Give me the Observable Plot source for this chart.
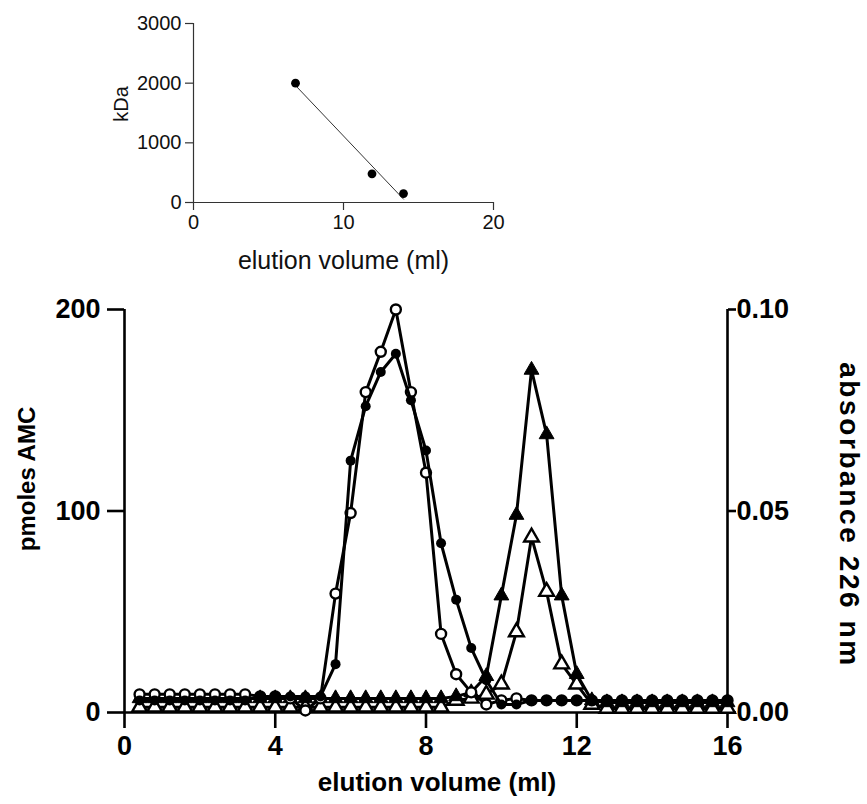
<!DOCTYPE html>
<html>
<head>
<meta charset="utf-8">
<script src="https://cdn.jsdelivr.net/npm/d3@7"></script>
<script src="https://cdn.jsdelivr.net/npm/@observablehq/plot@0.6"></script>
<style>
  html, body { margin: 0; padding: 0; background: #fff; }
  #fig { position: relative; width: 867px; height: 804px; background: #fff; overflow: hidden; }
  #inset, #main { position: absolute; left: 0; }
  #inset { top: 0; }
  #main { top: 290px; }
</style>
</head>
<body>
<div id="fig"><div id="inset"></div><div id="main"></div></div>
<script>
// ---- inset: calibration (kDa vs elution volume) ----
const calVolume = [6.8, 11.9, 14.0];
const calKDa = [2000, 480, 150];
const insetXTicks = [0, 10, 20];
const insetYTicks = [0, 1000, 2000, 3000];

// ---- main chart: elution profile ----
const volume = [0.4, 0.8, 1.2, 1.6, 2.0, 2.4, 2.8, 3.2, 3.6, 4.0, 4.4, 4.8, 5.2, 5.6, 6.0, 6.4, 6.8, 7.2, 7.6, 8.0,
                8.4, 8.8, 9.2, 9.6, 10.0, 10.4, 10.8, 11.2, 11.6, 12.0, 12.4, 12.8, 13.2, 13.6, 14.0, 14.4, 14.8, 15.2, 15.6, 16.0];
// pmoles AMC (left axis)
const amcOpen = [9, 9, 9, 9, 9, 9, 9, 9, 8, 8, 7, 1, 7, 59, 99, 159, 179, 200, 159, 119,
                 39, 19, 10, 4, 6, 7, 6, 6, 6, 6, 6, 6, 6, 6, 6, 6, 6, 6, 6, 6];
const amcFilled = [6, 6, 6, 6, 6, 6, 6, 6, 8, 8, 8, 8, 8, 24, 125, 152, 169, 178, 155, 130,
                   84, 56, 32, 16, 4, 4, 6, 6, 6, 6, 6, 6, 6, 6, 6, 6, 6, 6, 6, 6];
// absorbance 226 nm (right axis)
const absFilled = [0.0035, 0.0035, 0.0035, 0.0035, 0.0035, 0.0035, 0.0035, 0.0035, 0.0035, 0.0035,
                   0.0035, 0.0035, 0.0035, 0.0035, 0.0035, 0.0035, 0.0035, 0.0035, 0.0035, 0.0035,
                   0.0035, 0.004, 0.005, 0.009, 0.029, 0.049, 0.085, 0.069, 0.029, 0.0095,
                   0.003, 0.0025, 0.0025, 0.0025, 0.0025, 0.0025, 0.0025, 0.0025, 0.0025, 0.0025];
const absOpen = [0.0013, 0.0013, 0.0013, 0.0013, 0.0013, 0.0013, 0.0013, 0.0013, 0.0013, 0.0013,
                 0.0013, 0.0013, 0.0013, 0.0013, 0.0013, 0.0013, 0.0013, 0.0013, 0.0013, 0.0013,
                 0.0013, 0.003, 0.0035, 0.0045, 0.007, 0.020, 0.0435, 0.030, 0.012, 0.007,
                 0.002, 0.001, 0.001, 0.001, 0.001, 0.001, 0.001, 0.001, 0.001, 0.001];
const mainXTicks = [0, 4, 8, 12, 16];
const amcTicks = [0, 100, 200];
const absTicks = [0, 0.05, 0.10];
const absMax = 0.10, amcMax = 200;
const absToAmc = amcMax / absMax;

const FONT = "'Liberation Sans', Arial, Helvetica, sans-serif";

// ---------------- inset ----------------
const cal = calVolume.map((v, i) => ({v, k: calKDa[i]}));
const inset = Plot.plot({
  width: 560, height: 290,
  marginLeft: 193, marginRight: 67, marginTop: 23, marginBottom: 88,
  x: {domain: [0, 20]},
  y: {domain: [0, 3000]},
  style: {fontFamily: FONT, fontSize: "20px", color: "#111", background: "white", overflow: "visible"},
  marks: [
    Plot.ruleX([0], {stroke: "#333", strokeWidth: 1.2}),
    Plot.ruleY([0], {stroke: "#333", strokeWidth: 1.2}),
    Plot.axisX({ticks: insetXTicks, tickSize: 8, tickPadding: 4, stroke: "#333", strokeWidth: 1.2, label: null, tickFormat: d => String(d)}),
    Plot.axisY({ticks: insetYTicks, tickSize: 8, tickPadding: 4, stroke: "#333", strokeWidth: 1.2, label: null, tickFormat: d => String(d)}),
    Plot.linearRegressionY(cal, {x: "v", y: "k", ci: 0, stroke: "#333", strokeWidth: 1}),
    Plot.dot(cal, {x: "v", y: "k", r: 4.4, fill: "black", stroke: "none"}),
    Plot.text(["elution volume (ml)"], {frameAnchor: "bottom", dy: 66, text: d => d, fontSize: 25, fill: "#111", textAnchor: "middle"}),
    Plot.text(["kDa"], {frameAnchor: "left", dx: -72, dy: -9, rotate: -90, text: d => d, fontSize: 20, fill: "#111", textAnchor: "middle"})
  ]
});
document.getElementById("inset").appendChild(inset);

// ---------------- main ----------------
const rows = volume.map((v, i) => ({
  v,
  amcOpen: amcOpen[i],
  amcFilled: amcFilled[i],
  absFilled: absFilled[i] * absToAmc,
  absOpen: absOpen[i] * absToAmc
}));

const LW = 3;
const main = Plot.plot({
  width: 867, height: 514,
  marginLeft: 124, marginRight: 140, marginTop: 19, marginBottom: 92,
  x: {domain: [0, 16]},
  y: {domain: [0, amcMax]},
  style: {fontFamily: FONT, fontSize: "27px", fontWeight: "bold", color: "black", background: "white", overflow: "visible"},
  marks: [
    Plot.ruleX([0, 16], {stroke: "black", strokeWidth: 2.6}),
    Plot.ruleY([0], {stroke: "black", strokeWidth: 2.6}),
    Plot.axisX({ticks: mainXTicks, tickSize: 16, tickPadding: 7, strokeWidth: 2.6, label: null, tickFormat: d => String(d)}),
    Plot.axisY({ticks: amcTicks, tickSize: 17, tickPadding: 7, strokeWidth: 2.6, label: null, tickFormat: d => String(d)}),
    Plot.axisY({anchor: "right", ticks: absTicks.map(t => t * absToAmc), tickSize: 8, tickPadding: 1, strokeWidth: 2.6, label: null,
                tickFormat: d => (d / absToAmc).toFixed(2)}),
    // open triangles
    Plot.line(rows, {x: "v", y: "absOpen", stroke: "black", strokeWidth: LW}),
    Plot.dot(rows, {x: "v", y: "absOpen", symbol: "triangle", r: 5.5, fill: "white", stroke: "black", strokeWidth: 2.4}),
    // filled triangles
    Plot.line(rows, {x: "v", y: "absFilled", stroke: "black", strokeWidth: LW}),
    Plot.dot(rows, {x: "v", y: "absFilled", symbol: "triangle", r: 5.5, fill: "black", stroke: "black", strokeWidth: 1}),
    // open circles
    Plot.line(rows, {x: "v", y: "amcOpen", stroke: "black", strokeWidth: LW}),
    Plot.dot(rows, {x: "v", y: "amcOpen", r: 5, fill: "white", stroke: "black", strokeWidth: 2.4}),
    // filled circles
    Plot.line(rows, {x: "v", y: "amcFilled", stroke: "black", strokeWidth: LW}),
    Plot.dot(rows, {x: "v", y: "amcFilled", r: 5, fill: "black", stroke: "none"}),
    // axis titles
    Plot.text(["pmoles AMC"], {frameAnchor: "left", dx: -97, dy: -32, rotate: -90, text: d => d, fontSize: 24, fontWeight: "bold", textAnchor: "middle"}),
    Plot.text(["absorbance 226 nm"], {frameAnchor: "right", dx: 121, dy: 4, rotate: 90, text: d => d, fontSize: 28, fontWeight: "bold", textAnchor: "middle"}),
    Plot.text(["elution volume (ml)"], {frameAnchor: "bottom", dx: 11, dy: 78, text: d => d, fontSize: 26, fontWeight: "bold", textAnchor: "middle"})
  ]
});
// widen the letter spacing of the right axis title as in the original
d3.select(main).selectAll("text")
  .filter(function() { return this.textContent === "absorbance 226 nm"; })
  .attr("letter-spacing", "2.6px");
document.getElementById("main").appendChild(main);
</script>
</body>
</html>
